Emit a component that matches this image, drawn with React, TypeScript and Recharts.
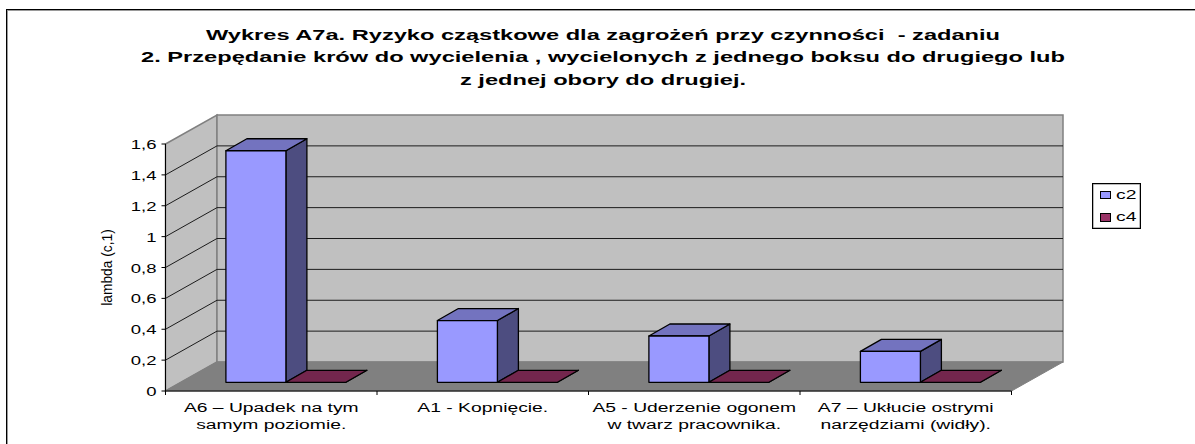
import { Bar, BarChart, CartesianGrid, Legend, XAxis, YAxis, usePlotArea } from 'recharts';

const titleLines = [
  'Wykres A7a. Ryzyko cząstkowe dla zagrożeń przy czynności  - zadaniu',
  '2. Przepędanie krów do wycielenia , wycielonych z jednego boksu do drugiego lub',
  'z jednej obory do drugiej.',
];
const categories = [
  'A6 – Upadek na tym\nsamym poziomie.',
  'A1 - Kopnięcie.',
  'A5 - Uderzenie ogonem\nw twarz pracownika.',
  'A7 – Ukłucie ostrymi\nnarzędziami (widły).',
];
const c2 = [1.5, 0.4, 0.3, 0.2];
const c4 = [0, 0, 0, 0];
const yTicks = [0, 0.2, 0.4, 0.6, 0.8, 1, 1.2, 1.4, 1.6];

const data = categories.map((name, i) => ({ name, c2: c2[i], c4: c4[i] }));

const font = '"Liberation Sans", Arial, sans-serif';
// oblique depth of the box and of the bars
const depth = { x: 51.5, y: -29 };
const barDepth = { x: 21, y: -12 };
const barShift = { x: 15, y: -8.7 };

function Walls() {
  const plot = usePlotArea();
  if (!plot) return null;
  const left = plot.x;
  const right = plot.x + plot.width;
  const top = plot.y;
  const bottom = plot.y + plot.height;
  return (
    <g>
      <polygon
        points={`${left},${top} ${left + depth.x},${top + depth.y} ${left + depth.x},${bottom + depth.y} ${left},${bottom}`}
        fill="#C0C0C0"
        stroke="#808080"
        strokeWidth={1.5}
      />
      <rect
        x={left + depth.x}
        y={top + depth.y}
        width={plot.width}
        height={plot.height}
        fill="#C0C0C0"
        stroke="#808080"
        strokeWidth={1.5}
      />
      <polygon
        points={`${left},${bottom} ${right},${bottom} ${right + depth.x},${bottom + depth.y} ${left + depth.x},${bottom + depth.y}`}
        fill="#808080"
        stroke="#808080"
      />
    </g>
  );
}

// category ticks sit between the bands, not on their centres
function BandTicks() {
  const plot = usePlotArea();
  if (!plot) return null;
  const bottom = plot.y + plot.height;
  const band = plot.width / categories.length;
  return (
    <g stroke="#000">
      {[...categories, ''].map((_, i) => (
        <line key={i} x1={plot.x + i * band} y1={bottom} x2={plot.x + i * band} y2={bottom + 4} />
      ))}
    </g>
  );
}

function GridLine({ x1, x2, y1 }: any) {
  return (
    <polyline
      points={`${x1},${y1} ${x1 + depth.x},${y1 + depth.y} ${x2 + depth.x},${y1 + depth.y}`}
      fill="none"
      stroke="#1c1c1c"
      strokeWidth={1}
    />
  );
}

function Box({ x, y, width, height, front, side, lid }: any) {
  const sx = x + barShift.x;
  const sy = y + barShift.y;
  const d = barDepth;
  return (
    <g stroke="#000" strokeWidth={1.3} strokeLinejoin="round">
      <polygon
        points={`${sx + width},${sy} ${sx + width + d.x},${sy + d.y} ${sx + width + d.x},${sy + height + d.y} ${sx + width},${sy + height}`}
        fill={side}
      />
      <polygon
        points={`${sx},${sy} ${sx + d.x},${sy + d.y} ${sx + width + d.x},${sy + d.y} ${sx + width},${sy}`}
        fill={lid}
      />
      {height > 0 && <rect x={sx} y={sy} width={width} height={height} fill={front} />}
    </g>
  );
}

// the labels in the original are stretched sideways, so scale them around their anchor
function CategoryTick({ x, y, payload }: any) {
  const lines = String(payload.value).split('\n');
  return (
    <text
      transform={`translate(${x},${y + 14.5}) scale(1.43,1)`}
      textAnchor="middle"
      fontFamily={font}
      fontSize={13.5}
      fill="#000"
    >
      {lines.map((line, i) => (
        <tspan key={line} x={0} y={i * 18}>
          {line}
        </tspan>
      ))}
    </text>
  );
}

function ValueTick({ x, y, payload }: any) {
  return (
    <text
      transform={`translate(${x - 3},${y + 5}) scale(1.37,1)`}
      textAnchor="end"
      fontFamily={font}
      fontSize={13.5}
      fill="#000"
    >
      {String(payload.value).replace('.', ',')}
    </text>
  );
}

function AxisTitle({ viewBox }: any) {
  const cy = viewBox.y + viewBox.height / 2;
  return (
    <text
      transform={`translate(111.5,${cy}) rotate(-90) scale(0.95,1)`}
      textAnchor="middle"
      fontFamily={font}
      fontSize={14.5}
      fill="#000"
    >
      lambda (c,1)
    </text>
  );
}

function Title() {
  return (
    <text
      transform="translate(603,0) scale(1.525,1)"
      textAnchor="middle"
      fontFamily={font}
      fontSize={15.5}
      fontWeight="bold"
      fill="#000"
      style={{ whiteSpace: 'pre' }}
    >
      {titleLines.map((line, i) => (
        <tspan key={line} x={0} y={40 + i * 22.5}>
          {line}
        </tspan>
      ))}
    </text>
  );
}

function Frame() {
  return (
    <g>
      <line x1={7.5} y1={11} x2={7.5} y2={444} stroke="#9a9a9a" />
      <line x1={7} y1={10.5} x2={1195} y2={10.5} stroke="#9a9a9a" />
      <line x1={6.5} y1={9} x2={6.5} y2={444} stroke="#000" />
      <line x1={6} y1={9.5} x2={1195} y2={9.5} stroke="#000" />
    </g>
  );
}

function LegendBox({ payload }: any) {
  return (
    <div
      style={{
        width: 47,
        height: 44,
        border: '1px solid #000',
        boxShadow: 'inset 0 0 0 0.5px #777',
        background: '#fff',
        fontFamily: font,
        fontSize: 13.5,
        lineHeight: '22.5px',
      }}
    >
      {payload.map((item: any) => (
        <div key={item.value} style={{ display: 'flex', alignItems: 'center', paddingLeft: 7 }}>
          <span
            style={{
              width: 9,
              height: 6.5,
              background: item.color,
              border: '1px solid #000',
              marginRight: 5,
            }}
          />
          <span style={{ transform: 'scaleX(1.43)', transformOrigin: 'left center' }}>{item.value}</span>
        </div>
      ))}
    </div>
  );
}

export default function App() {
  return (
    <div style={{ position: 'absolute', left: 0, top: 0, width: 1195, height: 444, background: '#fff' }}>
      <BarChart
        width={1195}
        height={444}
        data={data}
        margin={{ top: 144, right: 134.5, bottom: 0, left: 0 }}
        barCategoryGap={45.4}
        barGap={0}
      >
        <Frame />
        <Title />
        <Walls />
        <CartesianGrid
          zIndex={1}
          vertical={false}
          horizontal={(props: any) =>
            props.y1 > 150 && props.y1 < 385 ? <GridLine key={props.key} {...props} /> : <g key={props.key} />
          }
        />
        <XAxis
          dataKey="name"
          height={53}
          interval={0}
          stroke="#000"
          tickLine={false}
          tickSize={4}
          tick={<CategoryTick />}
        />
        <BandTicks />
        <YAxis
          width={165.5}
          domain={[0, 1.6]}
          ticks={yTicks}
          interval={0}
          stroke="#000"
          tickSize={4}
          tick={<ValueTick />}
          label={<AxisTitle />}
        />
        <Legend
          layout="vertical"
          align="right"
          verticalAlign="top"
          wrapperStyle={{ left: 1091.5, top: 182.5, width: 49, right: 'auto' }}
          content={<LegendBox />}
        />
        <Bar
          dataKey="c2"
          name="c2"
          fill="#9999FF"
          isAnimationActive={false}
          shape={(props: any) => <Box {...props} front="#9999FF" side="#4D4D80" lid="#7373BF" />}
        />
        <Bar
          dataKey="c4"
          name="c4"
          fill="#993366"
          isAnimationActive={false}
          shape={(props: any) => <Box {...props} front="#993366" side="#4D1A33" lid="#73264D" />}
        />
      </BarChart>
    </div>
  );
}
